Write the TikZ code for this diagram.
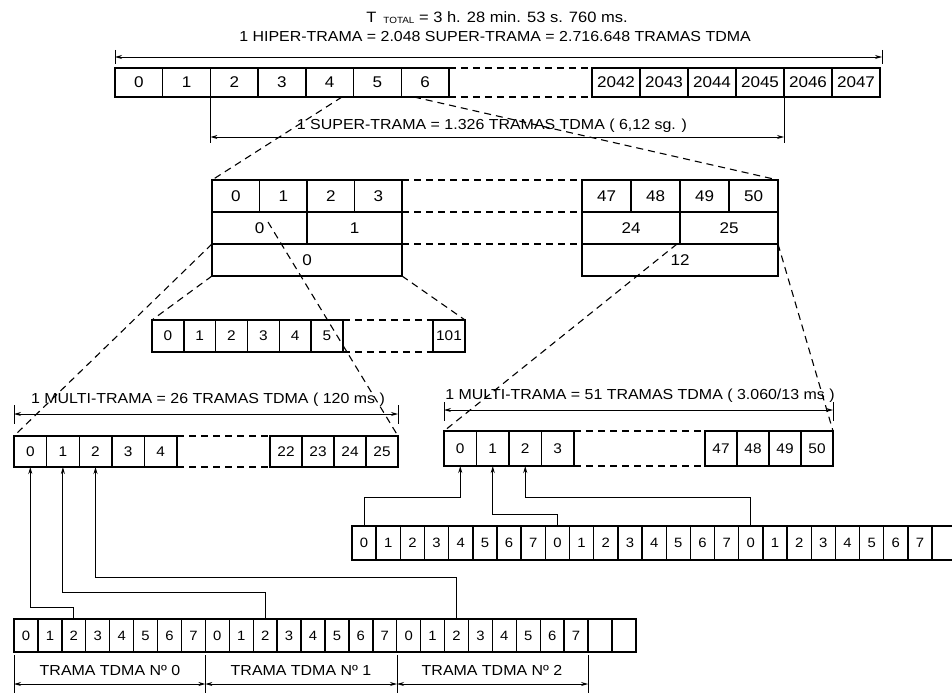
\documentclass[tikz,border=0pt]{standalone}
\usepackage{fontspec}
\setmainfont[FakeStretch=1.1]{Liberation Sans}
\usetikzlibrary{arrows.meta,calc}
\newcommand\dgA{\fontsize{15.5}{15.5}\selectfont}
\newcommand\dgB{\fontsize{14}{14}\selectfont}
\newcommand\dgC{\fontsize{13.5}{13.5}\selectfont}
\newcommand\lbfont{\fontsize{14.5}{16}\selectfont}
\tikzset{
  cell/.style={draw, line width=1.4pt, inner sep=0pt, outer sep=0pt, anchor=north west, font=\dgB},
  big/.style={font=\dgA},
  small/.style={font=\dgC},
  dsh/.style={line width=1.1pt, dash pattern=on 7pt off 5pt},
  dimarr/.style={line width=0.9pt, {Stealth[length=7pt,width=4pt]}-{Stealth[length=7pt,width=4pt]}},
  tick/.style={line width=0.9pt},
  conn/.style={line width=1pt, -{Stealth[length=7pt,width=4pt]}},
  lbl/.style={font=\lbfont, inner sep=0pt},
}
\begin{document}
\begin{tikzpicture}[x=1pt,y=-1pt]
\useasboundingbox[fill=white] (0,0) rectangle (952,693);

% ---------- titles ----------
\node[lbl, font=\fontsize{15}{16}\selectfont] (tt1) at (497,18) {T\, \raisebox{-1pt}{\fontsize{9}{9}\selectfont TOTAL} = 3 h. 28 min. 53 s. 760 ms.};
\node[lbl] (tt2) at (495,37) {1 HIPER-TRAMA = 2.048 SUPER-TRAMA = 2.716.648 TRAMAS TDMA};

% ---------- hyper-frame row ----------
\foreach \i in {0,...,6}{
  \node[cell, big, minimum width=47.7pt, minimum height=29pt] (ta\i) at ({115+47.7*\i},68) {\i};}
\foreach \t [count=\i from 0] in {2042,2043,2044,2045,2046,2047}{
  \node[cell, big, minimum width=48pt, minimum height=29pt] (tb\i) at ({592+48*\i},68) {\t};}
\draw[dsh] (ta6.north east) -- (tb0.north west);
\draw[dsh] (ta6.south east) -- (tb0.south west);

% top dimension
\coordinate (h1) at (115,57);
\coordinate (h2) at (882,57);
\draw[dimarr] (h1) -- (h2);
\draw[tick] (115,50) -- (115,64);
\draw[tick] (882,50) -- (882,64);

% super-frame dimension
\coordinate (s1) at (ta2.south west |- 0,137);
\coordinate (s2) at (tb3.south east |- 0,137);
\draw[tick] (ta2.south west) -- ++(0,46);
\draw[tick] (tb3.south east) -- ++(0,46);
\draw[dimarr] (s1) -- (s2);
\node[lbl] (stxt) at (492,126) {1 SUPER-TRAMA = 1.326 TRAMAS TDMA ( 6,12 sg. )};

% ---------- middle blocks ----------
\foreach \i in {0,...,3}{
  \node[cell, big, minimum width=47.5pt, minimum height=32pt] (L1\i) at ({212+47.5*\i},180) {\i};}
\node[cell, big, minimum width=95pt, minimum height=32pt] (L20) at (212,212) {0};
\node[cell, big, minimum width=95pt, minimum height=32pt] (L21) at (307,212) {1};
\node[cell, big, minimum width=190pt, minimum height=32pt] (L30) at (212,244) {0};

\foreach \t [count=\i from 0] in {47,48,49,50}{
  \node[cell, big, minimum width=49pt, minimum height=32pt] (R1\i) at ({582+49*\i},180) {\t};}
\node[cell, big, minimum width=98pt, minimum height=32pt] (R20) at (582,212) {24};
\node[cell, big, minimum width=98pt, minimum height=32pt] (R21) at (680,212) {25};
\node[cell, big, minimum width=196pt, minimum height=32pt] (R30) at (582,244) {12};

\draw[dsh] (L13.north east) -- (R10.north west);
\draw[dsh] (L13.south east) -- (R10.south west);
\draw[dsh] (L21.south east) -- (R20.south west);

% projections from hyper-frame row
\coordinate (p1) at (342,97);
\coordinate (p2) at (414,97);
\draw[dsh] (p1) -- (L10.north west);
\draw[dsh] (p2) -- (R13.north east);

% ---------- 0..101 row ----------
\foreach \i in {0,...,5}{
  \node[cell, minimum width=31.8pt, minimum height=32pt] (m\i) at ({152+31.8*\i},320) {\i};}
\node[cell, minimum width=32pt, minimum height=32pt] (m101) at (433,320) {101};
\draw[dsh] (m5.north east) -- (m101.north west);
\draw[dsh] (m5.south east) -- (m101.south west);
\draw[dsh] (L30.south west) -- (m0.north west);
\draw[dsh] (L30.south east) -- (m101.north east);

% ---------- 26 multiframe ----------
\foreach \i in {0,...,4}{
  \node[cell, minimum width=32.6pt, minimum height=31pt] (a\i) at ({14+32.6*\i},436) {\i};}
\foreach \t [count=\i from 0] in {22,23,24,25}{
  \node[cell, minimum width=32pt, minimum height=31pt] (c\i) at ({270+32*\i},436) {\t};}
\draw[dsh] (a4.north east) -- (c0.north west);
\draw[dsh] (a4.south east) -- (c0.south west);
\node[lbl] (atxt) at (208,400) {1 MULTI-TRAMA = 26 TRAMAS TDMA ( 120 ms )};
\coordinate (d1) at (14,414);
\coordinate (d2) at (398,414);
\draw[dimarr] (d1) -- (d2);
\draw[tick] (14,405) -- (14,424);
\draw[tick] (398,405) -- (398,424);
\coordinate (q1) at (268,222);
\draw[dsh] (L20.south west) -- (a0.north west);
\draw[dsh] (q1) -- (c3.north east);

% ---------- 51 multiframe ----------
\foreach \i in {0,...,3}{
  \node[cell, minimum width=32.5pt, minimum height=35pt] (b\i) at ({444+32.5*\i},431) {\i};}
\foreach \t [count=\i from 0] in {47,48,49,50}{
  \node[cell, minimum width=32pt, minimum height=35pt] (e\i) at ({705+32*\i},431) {\t};}
\draw[dsh] (b3.north east) -- (e0.north west);
\draw[dsh] (b3.south east) -- (e0.south west);
\node[lbl] (btxt) at (640,396) {1 MULTI-TRAMA = 51 TRAMAS TDMA ( 3.060/13 ms )};
\coordinate (f1) at (444,410);
\coordinate (f2) at (833,410);
\draw[dimarr] (f1) -- (f2);
\draw[tick] (444,402) -- (444,421);
\draw[tick] (833,402) -- (833,421);
\coordinate (q2) at (677,244);
\draw[dsh] (q2) -- (b0.north west);
\draw[dsh] (R30.north east) -- (e3.north east);

% ---------- right TDMA row ----------
\foreach \i in {0,...,23}{
  \pgfmathtruncatemacro\lab{mod(\i,8)}
  \node[cell, small, minimum width=24.17pt, minimum height=34pt] (r\i) at ({352+24.17*\i},526) {\lab};}
\node[cell, small, minimum width=24.17pt, minimum height=34pt] (r24) at ({352+24.17*24},526) {};

% ---------- bottom TDMA row ----------
\foreach \i in {0,...,23}{
  \pgfmathtruncatemacro\lab{mod(\i,8)}
  \node[cell, small, minimum width=23.92pt, minimum height=33pt] (z\i) at ({14+23.92*\i},619) {\lab};}
\foreach \i in {24,25}{
  \node[cell, small, minimum width=23.92pt, minimum height=33pt] (z\i) at ({14+23.92*\i},619) {};}

% bottom dimensions
\foreach \x in {14,205.4,397,588.1}{\draw[tick] (\x,655) -- (\x,693);}
\coordinate (g0) at (14,684);
\coordinate (g1) at (205.4,684);
\coordinate (g2) at (397,684);
\coordinate (g3) at (588.1,684);
\draw[dimarr] (g0) -- (g1);
\draw[dimarr] (g1) -- (g2);
\draw[dimarr] (g2) -- (g3);
\node[lbl] (n0) at (110,670) {TRAMA TDMA Nº 0};
\node[lbl] (n1) at (301,670) {TRAMA TDMA Nº 1};
\node[lbl] (n2) at (492,670) {TRAMA TDMA Nº 2};

% ---------- connectors ----------
\coordinate (y0) at (0,607);
\coordinate (y1) at (0,592);
\coordinate (y2) at (0,577);
\draw[conn] (z2.north) -- (z2.north |- y0) -| (a0.south);
\draw[conn] (z10.north) -- (z10.north |- y1) -| (a1.south);
\draw[conn] (z18.north) -- (z18.north |- y2) -| (a2.south);

\coordinate (y3) at (0,497);
\coordinate (y4) at (0,514);
\draw[conn] (r0.north) -- (r0.north |- y3) -| (b0.south);
\draw[conn] (r8.north) -- (r8.north |- y4) -| (b1.south);
\draw[conn] (r16.north) -- (r16.north |- y3) -| (b2.south);
\end{tikzpicture}
\end{document}
